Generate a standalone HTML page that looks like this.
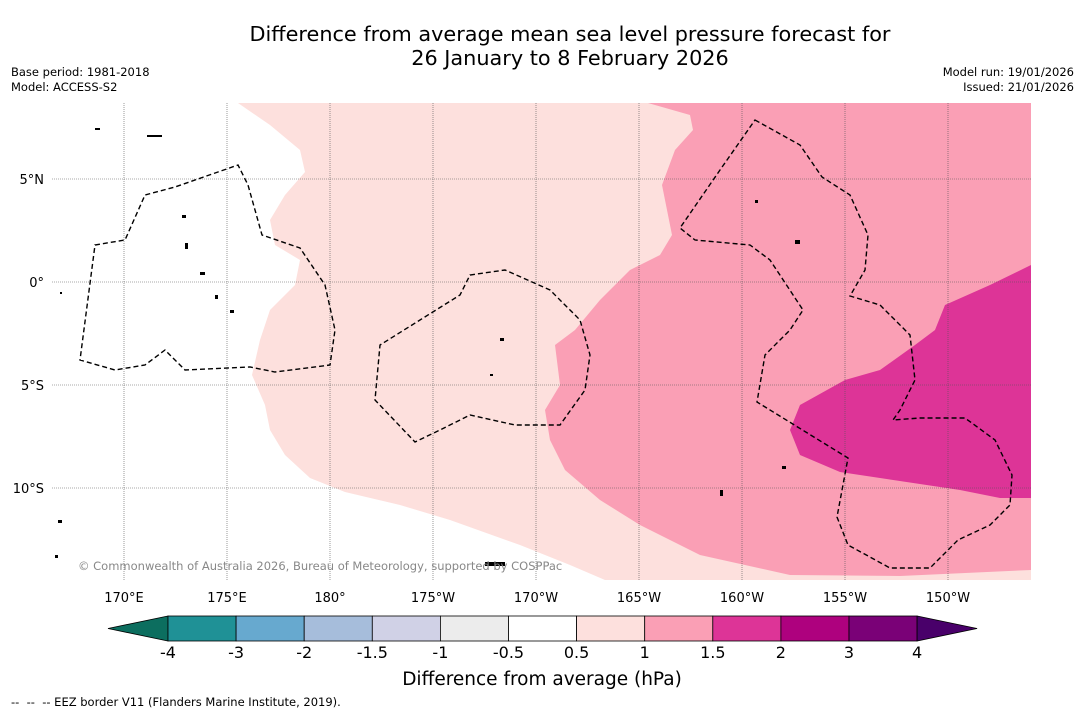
<!DOCTYPE html>
<html><head><meta charset="utf-8">
<style>
body{margin:0;background:#fff;width:1085px;height:713px;overflow:hidden;font-family:"DejaVu Sans","Liberation Sans",sans-serif;}
.t{position:absolute;}
</style></head>
<body>
<div class="t" style="left:0;width:1140px;top:22px;text-align:center;font-size:20.8px;line-height:24px;color:#000;">Difference from average mean sea level pressure forecast for<br>26 January to 8 February 2026</div>
<div class="t" style="left:11px;top:65px;font-size:11.5px;line-height:15px;">Base period: 1981-2018<br>Model: ACCESS-S2</div>
<div class="t" style="right:11px;top:65px;font-size:11.5px;line-height:15px;text-align:right;">Model run: 19/01/2026<br>Issued: 21/01/2026</div>
<svg id="map" width="1085" height="713" style="position:absolute;left:0;top:0" xmlns="http://www.w3.org/2000/svg">
  <defs><clipPath id="mc"><rect x="52" y="103" width="979" height="477"/></clipPath></defs>
  <g clip-path="url(#mc)">
    <path fill="#fde0dd" d="M238,103 L270,125 L300,150 L305,172 L285,195 L270,220 L275,245 L300,260 L295,285 L270,310 L260,340 L252,375 L265,405 L270,430 L285,455 L310,478 L345,492 L400,505 L450,520 L520,545 L570,565 L605,580 L1031,580 L1031,103 Z"/>
    <path fill="#fa9fb5" d="M648,103 L690,115 L693,130 L675,150 L662,185 L672,235 L660,255 L630,270 L600,300 L575,330 L555,345 L560,385 L545,410 L550,440 L565,470 L600,500 L640,525 L700,555 L790,575 L900,576 L1031,570 L1031,103 Z"/>
    <path fill="#dd3497" d="M1031,265 L990,285 L945,305 L935,330 L915,345 L880,370 L845,380 L800,405 L790,430 L800,455 L840,472 L880,478 L960,490 L1000,498 L1031,498 Z"/>
    <g id="grid" stroke="#555" stroke-width="0.6" stroke-dasharray="1,1"></g>
    <g fill="none" stroke="#000" stroke-width="1.4" stroke-dasharray="5,3">
      <path d="M95,245 L125,240 L145,195 L175,187 L238,165 L248,185 L262,235 L300,248 L325,285 L335,330 L330,365 L275,372 L250,367 L185,370 L165,350 L145,365 L115,370 L80,360 Z"/>
      <path d="M470,275 L505,270 L550,290 L580,320 L590,355 L585,390 L560,425 L515,425 L470,415 L440,430 L415,442 L375,400 L380,345 L460,295 Z"/>
      <path d="M755,120 L800,145 L822,177 L850,195 L868,235 L865,270 L850,296 L880,305 L910,335 L915,380 L900,410 L893,420 L920,418 L965,418 L995,440 L1012,475 L1010,505 L990,525 L958,540 L930,568 L890,568 L848,545 L837,517 L848,458 L757,402 L765,355 L790,330 L803,310 L770,260 L750,245 L695,240 L680,228 L720,170 Z"/>
    </g>
    <g fill="#000">
      <rect x="147" y="135" width="15" height="2"/><rect x="95" y="128" width="5" height="2"/><rect x="182" y="215" width="4" height="3"/>
      <rect x="185" y="243" width="3" height="6"/><rect x="200" y="272" width="5" height="3"/><rect x="215" y="295" width="3" height="4"/>
      <rect x="230" y="310" width="4" height="3"/><rect x="500" y="338" width="4" height="3"/><rect x="490" y="374" width="3" height="2"/>
      <rect x="795" y="240" width="5" height="4"/><rect x="755" y="200" width="3" height="3"/><rect x="782" y="466" width="4" height="3"/>
      <rect x="720" y="490" width="3" height="6"/><rect x="485" y="562" width="20" height="4"/><rect x="60" y="292" width="2" height="2"/>
      <rect x="58" y="520" width="4" height="3"/><rect x="55" y="555" width="3" height="3"/>
    </g>
  </g>
  <text x="78" y="570" font-size="11.5" fill="#888" font-family="DejaVu Sans, sans-serif">© Commonwealth of Australia 2026, Bureau of Meteorology, supported by COSPPac</text>
  <g id="axlabels" font-size="13" font-family="DejaVu Sans, sans-serif" fill="#000"></g>
  <g id="cbar"></g>
  <text x="542" y="685" text-anchor="middle" font-size="18.5" font-family="DejaVu Sans, sans-serif">Difference from average (hPa)</text>
  <text x="11" y="706" font-size="11.5" font-family="DejaVu Sans, sans-serif" xml:space="preserve">--  --  -- EEZ border V11 (Flanders Marine Institute, 2019).</text>
</svg>
<script>
const lonLabels=["170°E","175°E","180°","175°W","170°W","165°W","160°W","155°W","150°W"];
const lonValues=[170,175,180,185,190,195,200,205,210];
const latLabels=["5°N","0°","5°S","10°S"];
const latValues=[5,0,-5,-10];
const cbLevels=["-4","-3","-2","-1.5","-1","-0.5","0.5","1","1.5","2","3","4"];
const cbColors=["#1f9196","#67a9cf","#a6bddb","#d0d1e6","#ececec","#ffffff","#fde0dd","#fa9fb5","#dd3497","#ae017e","#7a0177"];
const cbLow="#0c6e5f", cbHigh="#49006a";
const NS="http://www.w3.org/2000/svg";
const xLon=v=>124+(v-170)*20.6, yLat=v=>282-v*20.6;
const grid=document.getElementById('grid'), ax=document.getElementById('axlabels');
function mk(t,a,p){const e=document.createElementNS(NS,t);for(const k in a)e.setAttribute(k,a[k]);p.appendChild(e);return e;}
lonValues.forEach((v,i)=>{const x=xLon(v);
  const l=mk('line',{x1:x,x2:x,y1:103,y2:580},grid);
  
  
  const t=mk('text',{x:x,y:602,'text-anchor':'middle'},ax);t.textContent=lonLabels[i];
  
  });
latValues.forEach((v,i)=>{const y=yLat(v);
  const l=mk('line',{x1:52,x2:1031,y1:y,y2:y},grid);
  
  
  const t=mk('text',{x:44,y:y+5,'text-anchor':'end'},ax);t.textContent=latLabels[i];
  
  });
const cb=document.getElementById('cbar');
const x0=168,w=68.1,y0=616,h=25;
const lt=mk('polygon',{points:`${x0},${y0} ${x0-60},${y0+h/2} ${x0},${y0+h}`,fill:cbLow,stroke:'#000','stroke-width':0.8},cb);


cbColors.forEach((c,i)=>{
  const r=mk('rect',{x:x0+i*w,y:y0,width:w,height:h,fill:c,stroke:'#000','stroke-width':0.8},cb);
  
  });
const xe=x0+cbColors.length*w;
const rt=mk('polygon',{points:`${xe},${y0} ${xe+60},${y0+h/2} ${xe},${y0+h}`,fill:cbHigh,stroke:'#000','stroke-width':0.8},cb);


cbLevels.forEach((s,i)=>{
  const t=mk('text',{x:x0+i*w,y:658,'text-anchor':'middle','font-size':16,'font-family':'DejaVu Sans, sans-serif'},cb);
  t.textContent=s;
  
  });
</script>
</body></html>
